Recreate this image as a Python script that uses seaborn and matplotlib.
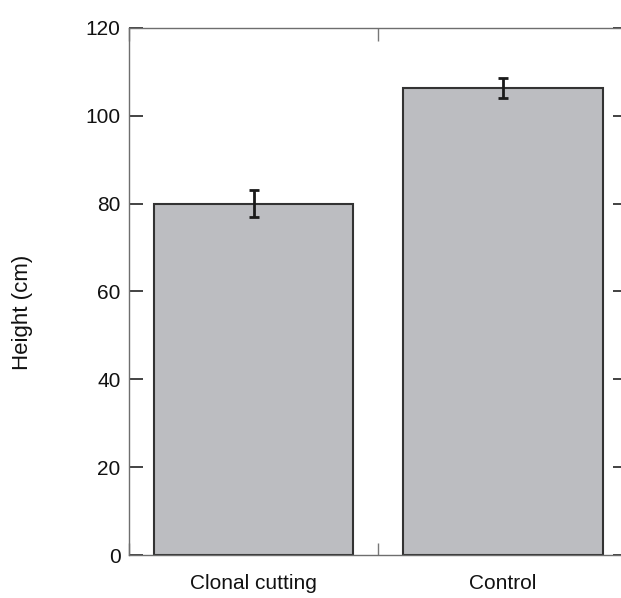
import matplotlib
matplotlib.use("Agg")
import matplotlib.pyplot as plt
import seaborn as sns
import pandas as pd

# Plant height by treatment (mean ± SE)
treatments = ["Clonal cutting", "Control"]
height_mean = [80.0, 106.3]
height_err = [3.0, 2.3]

sns.set_style("white")
plt.rcParams["font.family"] = ["Liberation Sans", "DejaVu Sans"]
plt.rcParams["text.color"] = "#111111"
plt.rcParams["xtick.labelcolor"] = "#111111"
plt.rcParams["ytick.labelcolor"] = "#111111"

df = pd.DataFrame({"Treatment": treatments, "Height": height_mean})

fig = plt.figure(figsize=(6.21, 5.98), dpi=100)
ax = fig.add_axes([0.2077, 0.0719, 0.8027, 0.8813])

sns.barplot(data=df, x="Treatment", y="Height", color="#bcbdc1",
            edgecolor="#333333", linewidth=1.5, width=0.8, errorbar=None,
            saturation=1, ax=ax)
ax.errorbar(range(len(treatments)), height_mean, yerr=height_err, fmt="none",
            ecolor="#1a1a1a", elinewidth=2, capsize=3.3, capthick=2, zorder=5)

ax.set_xlim(-0.5, 1.5)
ax.set_ylim(0, 120)
ax.set_yticks(range(0, 121, 20))
ax.set_xticks([-0.5, 0.5, 1.5], minor=True)

for side in ax.spines.values():
    side.set_color("#6e6e6e")
    side.set_linewidth(1.0)

ax.tick_params(axis="y", which="major", direction="in", length=10, width=1.2,
               color="#222222", left=True, right=True, labelsize=15, pad=6)
ax.tick_params(axis="x", which="major", length=0, labelsize=15, pad=14)
ax.tick_params(axis="x", which="minor", direction="in", length=9, width=1.0,
               color="#777777", bottom=True, top=True)

ax.set_xlabel("")
ax.set_ylabel("Height (cm)", fontsize=16, color="#111111")
ax.yaxis.set_label_coords(-0.193, 0.46)

fig.savefig("out.png", dpi=100)
